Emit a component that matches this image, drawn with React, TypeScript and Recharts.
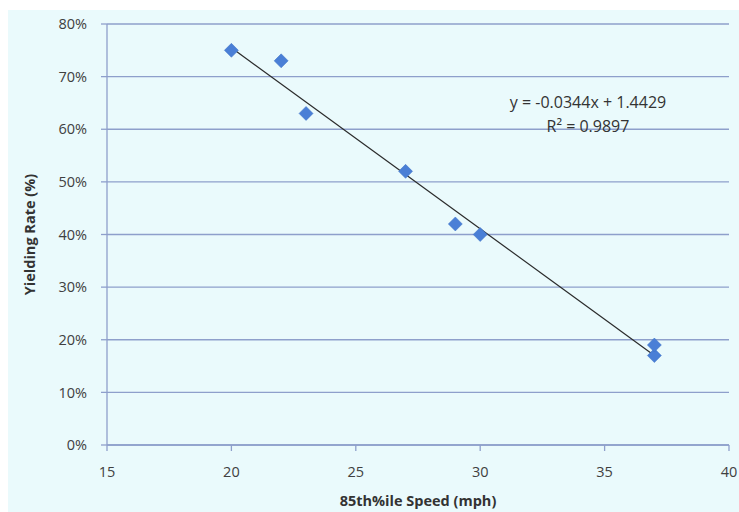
import React from 'react';
import { ScatterChart, Scatter, XAxis, YAxis, CartesianGrid, Line } from 'recharts';

const BG = '#EAFAFC';
const GRID = '#8E9FCB';
const TICK = '#404040';
const MARKER = '#4A7FD6';
const FONT = '"Open Sans", "Liberation Sans", sans-serif';

// 85th percentile speed (mph) vs yielding rate
const speeds = [20, 22, 23, 27, 29, 30, 37, 37];
const yieldRates = [0.75, 0.73, 0.63, 0.52, 0.42, 0.40, 0.17, 0.19];

// linear fit reported on the chart
const slope = -0.0344;
const intercept = 1.4429;
const rSquared = 0.9897;
const fitRange = [20, 37];

const xTicks = [15, 20, 25, 30, 35, 40];
const yTicks = [0, 0.1, 0.2, 0.3, 0.4, 0.5, 0.6, 0.7, 0.8];

const points = speeds.map((x, i) => ({ x, y: yieldRates[i] }));
const fitLine = fitRange.map(x => ({ x, y: slope * x + intercept }));

const Diamond = (props: any) => {
  const { cx, cy } = props;
  const r = 7;
  return (
    <polygon
      points={`${cx},${cy - r} ${cx + r},${cy} ${cx},${cy + r} ${cx - r},${cy}`}
      fill={MARKER}
      stroke="#3D70C4"
      strokeWidth={0.5}
    />
  );
};

export default function App() {
  return (
    <div style={{ position: 'absolute', left: 0, top: 0, width: 739, height: 512, background: '#fff', fontFamily: FONT }}>
      <div style={{ position: 'absolute', left: 8, top: 10, width: 731, height: 502, background: BG }} />
      <div style={{ position: 'absolute', left: 0, top: 0 }}>
        <ScatterChart width={739} height={512} margin={{ top: 24, right: 10, bottom: 0, left: 0 }}>
          <CartesianGrid horizontal vertical={false} stroke={GRID} strokeWidth={1.3} />
          <XAxis
            type="number"
            dataKey="x"
            domain={[15, 40]}
            ticks={xTicks}
            height={67}
            stroke={GRID}
            strokeWidth={1.3}
            tickSize={6}
            tickMargin={16}
            tick={{ fontSize: 14.5, fill: TICK, fontFamily: FONT }}
            label={{ value: '85th%ile Speed (mph)', position: 'insideBottom', offset: 6, style: { fontSize: 14.5, fontWeight: 700, fill: '#333', fontFamily: FONT } }}
          />
          <YAxis
            type="number"
            dataKey="y"
            domain={[0, 0.8]}
            ticks={yTicks}
            width={107}
            stroke={GRID}
            strokeWidth={1.3}
            tickSize={6}
            tickMargin={14}
            tickFormatter={(v: number) => `${Math.round(v * 100)}%`}
            tick={{ fontSize: 14.5, fill: TICK, fontFamily: FONT }}
            label={{ value: 'Yielding Rate (%)', angle: -90, position: 'insideLeft', offset: 30, style: { textAnchor: 'middle', fontSize: 14.5, fontWeight: 700, fill: '#333', fontFamily: FONT } }}
          />
          <Line
            data={fitLine}
            dataKey="y"
            type="linear"
            stroke="#2A2A2A"
            strokeWidth={1.2}
            dot={false}
            activeDot={false}
            isAnimationActive={false}
          />
          <Scatter data={points} shape={<Diamond />} isAnimationActive={false} />
        </ScatterChart>
      </div>
      <div style={{ position: 'absolute', left: 468, top: 90, width: 240, textAlign: 'center', fontSize: 16, lineHeight: '24px', color: '#333' }}>
        <div>y = {slope}x + {intercept}</div>
        <div>R² = {rSquared}</div>
      </div>
    </div>
  );
}
